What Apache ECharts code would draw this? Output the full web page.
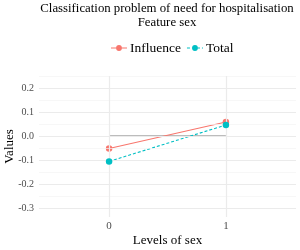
<!DOCTYPE html>
<html><head><meta charset="utf-8">
<script src="https://cdn.jsdelivr.net/npm/echarts@6/dist/echarts.min.js"></script>
<style>html,body{margin:0;padding:0;background:#fff}#c{width:300px;height:250px}</style>
</head><body><div id="c"></div>
<script>
const levels = [0, 1];
const levelLabels = ['0', '1'];
const influence = [-0.052, 0.058];
const total = [-0.106, 0.046];
const baseline = [0, 0];
const yTicks = [-0.3, -0.2, -0.1, 0.0, 0.1, 0.2];
const yMinor = [-0.25, -0.15, -0.05, 0.05, 0.15, 0.25];

const FONT = 'Liberation Serif';
const RED = '#F8766D', TEAL = '#00BFC4';
const chart = echarts.init(document.getElementById('c'), null, {renderer: 'canvas'});
const grid = {left: 39, right: 4, top: 76, bottom: 33, containLabel: false, outerBoundsMode: 'none'};
const pairs = a => levels.map((x, i) => [x, a[i]]);
const gridLines = [
  ...yMinor.map(v => ({yAxis: v, lineStyle: {color: '#F3F3F3', width: 0.7, type: 'solid'}})),
  ...yTicks.map(v => ({yAxis: v, lineStyle: {color: '#EBEBEB', width: 1.2, type: 'solid'}})),
  ...levels.map(v => ({xAxis: v, lineStyle: {color: '#EBEBEB', width: 1.2, type: 'solid'}}))
];
const dot = 'M8,0.6 A2.9,2.9 0 1 1 8,6.4 A2.9,2.9 0 1 1 8,0.6 Z';
const iconSolid = 'path://M0,3 L16,3 L16,4 L0,4 Z ' + dot;
const iconDash = 'path://M0,3 L3,3 L3,4 L0,4 Z M5,3 L8,3 L8,4 L5,4 Z M10,3 L13,3 L13,4 L10,4 Z M15,3 L16,3 L16,4 L15,4 Z ' + dot;
chart.setOption({
  animation: false,
  graphic: [{
    type: 'text', x: 167, y: 2,
    style: {text: 'Classification problem of need for hospitalisation\nFeature sex',
      align: 'center', verticalAlign: 'top', font: '12.8px "' + FONT + '"', fill: '#000', lineHeight: 14}
  }],
  legend: {
    top: 36, left: 106,
    itemWidth: 16, itemHeight: 7, itemGap: 6,
    textStyle: {fontFamily: FONT, fontSize: 13.5, color: '#000', padding: [0, 0, 0, -2]},
    data: [{name: 'Influence', icon: iconSolid}, {name: 'Total', icon: iconDash}]
  },
  grid: grid,
  xAxis: {
    type: 'value', min: -0.6, max: 1.6,
    splitLine: {show: false}, axisLine: {show: false}, axisTick: {show: false},
    axisLabel: {customValues: levels, formatter: v => levelLabels[levels.indexOf(v)] ?? '',
      fontFamily: FONT, fontSize: 11, color: '#4D4D4D', margin: 4},
    name: 'Levels of sex', nameLocation: 'middle', nameGap: 17, nameMoveOverlap: false,
    nameTextStyle: {fontFamily: FONT, fontSize: 13, color: '#000'}
  },
  yAxis: {
    type: 'value', min: -0.3375, max: 0.25,
    splitLine: {show: false}, axisLine: {show: false}, axisTick: {show: false},
    axisLabel: {customValues: yTicks, formatter: v => v.toFixed(1),
      fontFamily: FONT, fontSize: 10, color: '#4D4D4D', margin: 5},
    name: 'Values', nameLocation: 'middle', nameGap: 23, nameRotate: 90, nameMoveOverlap: false,
    nameTextStyle: {fontFamily: FONT, fontSize: 13, color: '#000'}
  },
  series: [
    {type: 'line', data: [], silent: true, z: 0,
      markLine: {silent: true, symbol: 'none', label: {show: false}, data: gridLines, animation: false}},
    {type: 'line', data: pairs(baseline), symbol: 'none', silent: true, z: 1,
      lineStyle: {color: '#A6A6A6', width: 1.4, type: 'solid'}},
    {name: 'Influence', type: 'line', data: pairs(influence), color: RED, z: 3,
      symbol: 'none', lineStyle: {width: 1.1, type: 'solid', color: RED}, itemStyle: {color: RED}},
    {name: 'Total', type: 'line', data: pairs(total), color: TEAL, z: 3,
      symbol: 'none', lineStyle: {width: 1.1, type: [3, 2], color: TEAL}, itemStyle: {color: TEAL}},
    {type: 'scatter', data: pairs(influence), symbol: 'circle', symbolSize: 6.5, z: 4, silent: true,
      itemStyle: {color: RED, opacity: 1, borderWidth: 0}},
    {type: 'scatter', data: pairs(total), symbol: 'circle', symbolSize: 6.5, z: 5, silent: true,
      itemStyle: {color: TEAL, opacity: 1, borderWidth: 0}}
  ]
});
</script></body></html>
